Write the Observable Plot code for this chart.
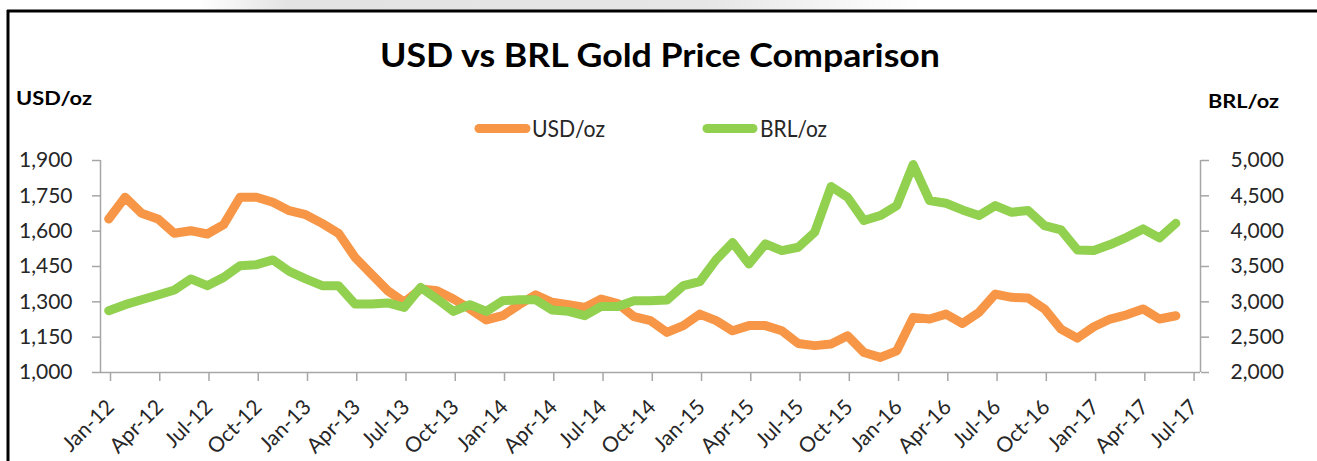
<!DOCTYPE html>
<html><head><meta charset="utf-8">
<script src="https://cdn.jsdelivr.net/npm/d3@7"></script>
<script src="https://cdn.jsdelivr.net/npm/@observablehq/plot@0.6"></script>
<style>
html,body{margin:0;padding:0;background:#fff;}
#wrap{position:relative;width:1317px;height:461px;overflow:hidden;background:#fff;}
#wrap svg{position:absolute;left:0;top:0;}
</style></head><body><div id="wrap"></div>
<script>
// ---- data (monthly, Jan-12 .. Jun-17; Jul-17 category empty) ----
const categoryCount = 67; // Jan-12 .. Jul-17
const xTickLabels = ["Jan-12","Apr-12","Jul-12","Oct-12","Jan-13","Apr-13","Jul-13","Oct-13",
  "Jan-14","Apr-14","Jul-14","Oct-14","Jan-15","Apr-15","Jul-15","Oct-15",
  "Jan-16","Apr-16","Jul-16","Oct-16","Jan-17","Apr-17","Jul-17"];
const usdPerOz = [1652,1744,1676,1652,1591,1602,1588,1628,1744,1744,1723,1687,
  1670,1633,1591,1489,1418,1347,1298,1355,1347,1312,1270,1223,
  1241,1288,1330,1298,1288,1276,1312,1293,1237,1220,1170,1199,
  1248,1220,1177,1199,1199,1177,1123,1114,1121,1156,1085,1064,
  1092,1234,1227,1248,1208,1255,1333,1319,1316,1270,1184,1146,
  1194,1227,1245,1270,1227,1241];
const brlPerOz = [2874,2960,3030,3097,3168,3324,3229,3346,3512,3526,3593,3431,
  3324,3229,3229,2969,2969,2984,2921,3205,3040,2865,2960,2865,
  3016,3030,3030,2884,2865,2804,2935,2935,3016,3016,3026,3229,
  3285,3597,3838,3536,3820,3725,3772,3984,4632,4480,4150,4221,
  4362,4943,4433,4395,4301,4221,4362,4267,4292,4079,4018,3735,
  3725,3810,3913,4032,3905,4112];
const usdTicks = [1000,1150,1300,1450,1600,1750,1900];
const brlTicks = [2000,2500,3000,3500,4000,4500,5000];
const seriesNames = ["USD/oz","BRL/oz"];
const seriesColors = ["#F79646","#92D050"];
const titleText = "USD vs BRL Gold Price Comparison";

// secondary axis mapped onto the primary scale
const brlToUsd = d3.scaleLinear().domain([brlTicks[0], brlTicks[brlTicks.length-1]])
  .range([usdTicks[0], usdTicks[usdTicks.length-1]]);
const usdRows = usdPerOz.map((v,i)=>({pos:i+0.5, v}));
const brlRows = brlPerOz.map((v,i)=>({pos:i+0.5, v:brlToUsd(v)}));
const tickPos = xTickLabels.map((_,k)=>k*3);
const fmt = d3.format(",");
const gray = "#a6a6a6";
const ink = "#262626";

const plot = Plot.plot({
  width:1317, height:461,
  marginTop:160, marginBottom:89, marginLeft:100, marginRight:117,
  style:{fontFamily:"Lato, sans-serif", fontSize:"21px", color:ink, background:"transparent", overflow:"visible"},
  x:{type:"linear", domain:[0, categoryCount], label:null},
  y:{domain:[usdTicks[0], usdTicks[usdTicks.length-1]], label:null},
  marks:[
    Plot.ruleX([0, categoryCount], {stroke:gray, strokeWidth:1.5}),
    Plot.ruleY([usdTicks[0]], {stroke:gray, strokeWidth:1.5}),
    Plot.axisY(usdTicks, {anchor:"left", label:null, tickSize:8, tickPadding:20, tickFormat:fmt, stroke:gray, fill:ink, strokeWidth:1.5}),
    Plot.axisY(brlTicks.map(brlToUsd), {anchor:"right", label:null, tickSize:8, tickPadding:22,
      tickFormat:d=>fmt(Math.round(brlToUsd.invert(d))), stroke:gray, fill:ink, strokeWidth:1.5}),
    Plot.axisX(tickPos, {anchor:"bottom", label:null, tickSize:9, tickPadding:22, tickRotate:-45,
      tickFormat:d=>xTickLabels[d/3], stroke:gray, fill:ink, strokeWidth:1.5, dx:10, dy:0}),
    Plot.line(usdRows, {x:"pos", y:"v", stroke:seriesColors[0], strokeWidth:9, strokeLinejoin:"round", strokeLinecap:"round"}),
    Plot.line(brlRows, {x:"pos", y:"v", stroke:seriesColors[1], strokeWidth:9, strokeLinejoin:"round", strokeLinecap:"round"})
  ]
});
const wrap = document.getElementById("wrap");
wrap.appendChild(plot);

// ---- overlay: frame, title, axis titles, legend ----
const ov = d3.select(wrap).append("svg").attr("width",1317).attr("height",461)
  .style("pointer-events","none").style("font-family","Lato, sans-serif");
const defs = ov.append("defs");
const lg = defs.append("linearGradient").attr("id","wm").attr("x1","0").attr("x2","1");
lg.append("stop").attr("offset","0").attr("stop-color","#fff");
lg.append("stop").attr("offset","0.12").attr("stop-color","#e3e3e3");
lg.append("stop").attr("offset","0.7").attr("stop-color","#e6e6e6");
lg.append("stop").attr("offset","1").attr("stop-color","#fff");
ov.append("rect").attr("x",200).attr("y",0).attr("width",720).attr("height",10).attr("fill","url(#wm)");
ov.append("line").attr("x1",7).attr("x2",1317).attr("y1",11).attr("y2",11).attr("stroke","#000").attr("stroke-width",3);
ov.append("line").attr("x1",8).attr("x2",8).attr("y1",10).attr("y2",461).attr("stroke","#000").attr("stroke-width",3);

ov.append("text").attr("x",660).attr("y",67).attr("text-anchor","middle")
  .attr("font-size",33).attr("font-weight",700).attr("fill","#000")
  .attr("textLength",560).attr("lengthAdjust","spacingAndGlyphs").text(titleText);
ov.append("text").attr("x",16).attr("y",105).attr("font-size",19).attr("font-weight",700).attr("fill","#000")
  .attr("textLength",76).attr("lengthAdjust","spacingAndGlyphs").text(seriesNames[0]);
ov.append("text").attr("x",1208).attr("y",108).attr("font-size",19).attr("font-weight",700).attr("fill","#000")
  .attr("textLength",71).attr("lengthAdjust","spacingAndGlyphs").text(seriesNames[1]);

const legendItems = [{x0:479, x1:526, tx:532, tl:73}, {x0:707, x1:753, tx:760, tl:67}];
legendItems.forEach((it,k)=>{
  ov.append("line").attr("x1",it.x0).attr("x2",it.x1).attr("y1",128.5).attr("y2",128.5)
    .attr("stroke",seriesColors[k]).attr("stroke-width",9).attr("stroke-linecap","round");
  ov.append("text").attr("x",it.tx).attr("y",137).attr("font-size",24).attr("fill",ink)
    .attr("textLength",it.tl).attr("lengthAdjust","spacingAndGlyphs").text(seriesNames[k]);
});
</script></body></html>
